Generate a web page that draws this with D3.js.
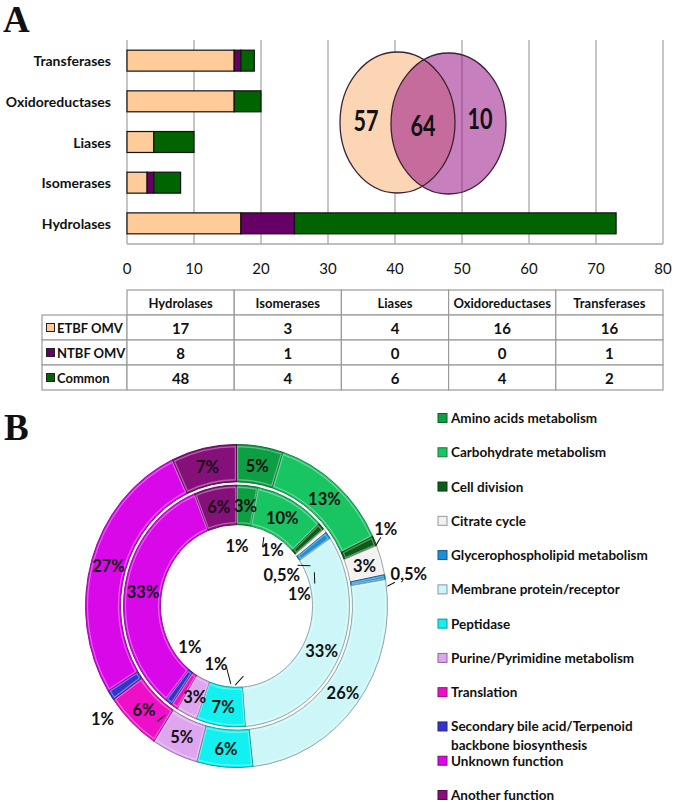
<!DOCTYPE html>
<html>
<head>
<meta charset="utf-8">
<script src="https://cdn.jsdelivr.net/npm/d3@7"></script>
<style>
  body { margin: 0; background: #fff; }
  svg { display: block; }
  text { font-family: Lato, "Open Sans", sans-serif; fill: #111; }
</style>
</head>
<body>
<svg id="fig" width="675" height="802"></svg>
<script>
// ---------- panel A data ----------
var enzymes = ["Hydrolases", "Isomerases", "Liases", "Oxidoreductases", "Transferases"];
var seriesNames = ["ETBF OMV", "NTBF OMV", "Common"];
var etbfOmv = [17, 3, 4, 16, 16];
var ntbfOmv = [8, 1, 0, 0, 1];
var commonOmv = [48, 4, 6, 4, 2];
var xTicks = [0, 10, 20, 30, 40, 50, 60, 70, 80];
var vennCounts = [57, 64, 10]; // ETBF only, shared, NTBF only

// ---------- panel B data ----------
var functionNames = [
  "Amino acids metabolism", "Carbohydrate metabolism", "Cell division", "Citrate cycle",
  "Glycerophospholipid metabolism", "Membrane protein/receptor", "Peptidase",
  "Purine/Pyrimidine metabolism", "Translation",
  "Secondary bile acid/Terpenoid backbone biosynthesis", "Unknown function", "Another function"
];
var innerPct = [3, 10, 1, 0.5, 1, 33, 7, 3, 1, 1, 33, 6];
var outerPct = [5, 13, 1, 3, 0.5, 26, 6, 5, 6, 1, 27, 7];

var seriesColors = ["#FFCC99", "#660066", "#006400"];
var fnColors = ["#0E9E44", "#19C463", "#0B5E16", "#F2F2F2", "#1E8FD6", "#CDF6F8",
  "#12F0F0", "#DDA6EE", "#EE10C8", "#3434CC", "#D808E8", "#86107A"];

var svg = d3.select("#fig");

// panel letters
svg.append("text").attr("x", 3).attr("y", 32).text("A")
  .style("font-family", "Liberation Serif, serif").style("font-weight", "bold").style("font-size", "37px");
svg.append("text").attr("x", 4).attr("y", 440).text("B")
  .style("font-family", "Liberation Serif, serif").style("font-weight", "bold").style("font-size", "37px");

// ---------- bar chart ----------
var x = d3.scaleLinear().domain([0, 80]).range([127, 663]);
var y = d3.scaleBand().domain(enzymes.slice().reverse()).range([40, 244])
  .paddingInner(0.485).paddingOuter(0.25);

var rows = enzymes.map(function (e, i) {
  return { name: e, "ETBF OMV": etbfOmv[i], "NTBF OMV": ntbfOmv[i], "Common": commonOmv[i] };
});
var stack = d3.stack().keys(seriesNames)(rows);

var gA = svg.append("g");
gA.selectAll("line.grid").data(xTicks).join("line")
  .attr("x1", d => x(d)).attr("x2", d => x(d))
  .attr("y1", 40).attr("y2", 244)
  .attr("stroke", "#a8a8a8").attr("stroke-width", 1.3);
gA.append("line").attr("x1", x(0)).attr("x2", x(80)).attr("y1", 244).attr("y2", 244)
  .attr("stroke", "#a8a8a8").attr("stroke-width", 1.5);

gA.selectAll("text.tick").data(xTicks).join("text")
  .attr("x", d => x(d)).attr("y", 268).attr("text-anchor", "middle")
  .attr("dominant-baseline", "central").style("font-size", "15px").text(d => d);

gA.selectAll("text.cat").data(enzymes).join("text")
  .attr("x", 111).attr("y", d => y(d) + y.bandwidth() / 2)
  .attr("text-anchor", "end").attr("dominant-baseline", "central")
  .style("font-size", "14px").style("font-weight", "bold").text(d => d);

stack.forEach(function (s, si) {
  gA.selectAll(null).data(s).join("rect")
    .attr("x", d => x(d[0])).attr("width", d => x(d[1]) - x(d[0]))
    .attr("y", d => y(d.data.name)).attr("height", y.bandwidth())
    .attr("fill", seriesColors[si]).attr("stroke", "#111").attr("stroke-width", 1.2);
});

// venn inset
var venn = [
  { cx: 397.5, cy: 122.5, fill: "#FCD6B4", op: 1 },
  { cx: 448.5, cy: 123.5, fill: "rgb(153,22,137)", op: 0.55 }
];
gA.selectAll("ellipse.fill").data(venn).join("ellipse")
  .attr("cx", d => d.cx).attr("cy", d => d.cy).attr("rx", 57.5).attr("ry", 70.5)
  .attr("fill", d => d.fill).attr("fill-opacity", d => d.op);
gA.selectAll("ellipse.edge").data(venn).join("ellipse")
  .attr("cx", d => d.cx).attr("cy", d => d.cy).attr("rx", 57.5).attr("ry", 70.5)
  .attr("fill", "none").attr("stroke", "#3b2233").attr("stroke-width", 1.3);
var vennPos = [[366, 120], [423, 125], [480, 118]];
gA.selectAll("text.venn").data(vennCounts).join("text")
  .attr("transform", (d, i) => "translate(" + vennPos[i][0] + "," + vennPos[i][1] + ") scale(0.9,1.2)")
  .attr("text-anchor", "middle").attr("dominant-baseline", "central")
  .style("font-size", "24px").style("font-weight", "bold").text(d => d);

// ---------- table ----------
var tx = d3.scaleBand().domain(enzymes).range([127, 663]);
var ty = d3.scaleBand().domain(["head"].concat(seriesNames)).range([290, 390]);
var tableVals = [etbfOmv, ntbfOmv, commonOmv];
var gT = svg.append("g");
var lineCol = "#9a9a9a";

gT.selectAll("rect.h").data(enzymes).join("rect")
  .attr("x", d => tx(d)).attr("y", ty("head")).attr("width", tx.bandwidth()).attr("height", ty.bandwidth())
  .attr("fill", "#fff").attr("stroke", lineCol).attr("stroke-width", 1.2);
gT.selectAll("text.h").data(enzymes).join("text")
  .attr("x", d => tx(d) + tx.bandwidth() / 2).attr("y", ty("head") + ty.bandwidth() / 2)
  .attr("text-anchor", "middle").attr("dominant-baseline", "central")
  .style("font-size", "13px").style("font-weight", "bold").text(d => d);

seriesNames.forEach(function (s, si) {
  var yy = ty(s);
  gT.append("rect").attr("x", 42).attr("y", yy).attr("width", 85).attr("height", ty.bandwidth())
    .attr("fill", "#fff").attr("stroke", lineCol).attr("stroke-width", 1.2);
  gT.append("rect").attr("x", 46.5).attr("y", yy + ty.bandwidth() / 2 - 4).attr("width", 8).attr("height", 8)
    .attr("fill", seriesColors[si]).attr("stroke", "#222").attr("stroke-width", 1);
  gT.append("text").attr("x", 57).attr("y", yy + ty.bandwidth() / 2)
    .attr("dominant-baseline", "central").style("font-size", "13px").style("font-weight", "bold").text(s);
  gT.selectAll(null).data(tableVals[si]).join("rect")
    .attr("x", (d, i) => tx(enzymes[i])).attr("y", yy).attr("width", tx.bandwidth()).attr("height", ty.bandwidth())
    .attr("fill", "#fff").attr("stroke", lineCol).attr("stroke-width", 1.2);
  gT.selectAll(null).data(tableVals[si]).join("text")
    .attr("x", (d, i) => tx(enzymes[i]) + tx.bandwidth() / 2).attr("y", yy + ty.bandwidth() / 2)
    .attr("text-anchor", "middle").attr("dominant-baseline", "central")
    .style("font-size", "15px").style("font-weight", "bold").text(d => d);
});

// ---------- donut ----------
var cx = 236.5, cy = 606, sy = 1.07;
var gB = svg.append("g").attr("transform", "translate(" + cx + "," + cy + ") scale(1," + sy + ")");
var pie = d3.pie().sort(null).value(d => d);
var rings = [
  { vals: innerPct, r0: 76, r1: 113 },
  { vals: outerPct, r0: 116, r1: 151 }
];
function pctText(v) { return String(v).replace(".", ",") + "%"; }

rings.forEach(function (ring) {
  var arc = d3.arc().innerRadius(ring.r0).outerRadius(ring.r1);
  var inset = d3.arc().innerRadius(ring.r0 + 2).outerRadius(ring.r1 - 2).padAngle(0.012);
  var arcs = pie(ring.vals);
  ring.arcs = arcs;
  gB.selectAll(null).data(arcs).join("path")
    .attr("d", arc).attr("fill", (d, i) => fnColors[i])
    .attr("stroke", (d, i) => d3.color(fnColors[i]).darker(1.2)).attr("stroke-width", 0.9);
  gB.selectAll(null).data(arcs).join("path")
    .attr("d", inset).attr("fill", "none")
    .attr("stroke", "#fff").attr("stroke-opacity", 0.35).attr("stroke-width", 1.2);
});

// label placement: big slices at centroid, small ones at given polar spots (deg, radius)
var innerSmall = {
  2: { a: 34, r: 64, lead: [[23, 70], [25, 62]] },
  3: { a: 57, r: 54, lead: [[58, 72], [63, 83]] },
  4: { a: 79, r: 64, lead: [[68, 84], [75, 81]] },
  8: { a: 231, r: 60 },
  9: { a: 201, r: 57, lead: [[190, 58], [184.5, 73]] }
};
var outerSmall = {
  2: { a: 64, r: 166, lead: [[68, 150], [66, 158]] },
  4: { a: 80, r: 175, lead: [[83, 152], [82, 160]] },
  9: { a: 232, r: 170 }
};
function polar(a, r) {
  var t = a * Math.PI / 180;
  return [r * Math.sin(t), -r * Math.cos(t)];
}
function leader(pts) {
  var p0 = polar(pts[0][0], pts[0][1]), p1 = polar(pts[1][0], pts[1][1]);
  gB.append("line").attr("x1", p0[0]).attr("y1", p0[1]).attr("x2", p1[0]).attr("y2", p1[1])
    .attr("stroke", "#111").attr("stroke-width", 1);
}
[innerSmall, outerSmall].forEach(function (small, ri) {
  var ring = rings[ri];
  var arc = d3.arc().innerRadius(ring.r0).outerRadius(ring.r1);
  ring.arcs.forEach(function (d, i) {
    var p = small[i] ? polar(small[i].a, small[i].r) : arc.centroid(d);
    gB.append("text").attr("x", p[0]).attr("y", p[1])
      .attr("text-anchor", "middle").attr("dominant-baseline", "central")
      .style("font-size", "16.5px").style("font-weight", "bold").text(pctText(ring.vals[i]));
    if (small[i] && small[i].lead) leader(small[i].lead);
  });
});
// extra 1% note inside the hole and stray leader ticks
var note = polar(0.5, 57);
gB.append("text").attr("x", note[0]).attr("y", note[1])
  .attr("text-anchor", "middle").attr("dominant-baseline", "central")
  .style("font-size", "16.5px").style("font-weight", "bold").text("1%");
leader([[181, 74], [174, 66]]);
leader([[216.3, 134], [215, 124.5]]);

// ---------- legend ----------
var gL = svg.append("g");
var ly = d3.scalePoint().domain(functionNames).range([418, 795]);
gL.selectAll("rect").data(functionNames).join("rect")
  .attr("x", 438).attr("y", d => ly(d) - 4.5).attr("width", 9).attr("height", 9)
  .attr("fill", (d, i) => fnColors[i]).attr("stroke", (d, i) => d3.color(fnColors[i]).darker(1.3)).attr("stroke-width", 1);
gL.selectAll("text").data(functionNames).join("text")
  .attr("x", 451).attr("y", d => ly(d))
  .attr("dominant-baseline", "central").style("font-size", "13.5px").style("font-weight", "bold")
  .each(function (d) {
    var t = d3.select(this);
    if (d.indexOf("Secondary") === 0) {
      t.append("tspan").attr("x", 451).text("Secondary bile acid/Terpenoid");
      t.append("tspan").attr("x", 451).attr("dy", 19).text("backbone biosynthesis");
    } else {
      t.text(d);
    }
  });
</script>
</body>
</html>
